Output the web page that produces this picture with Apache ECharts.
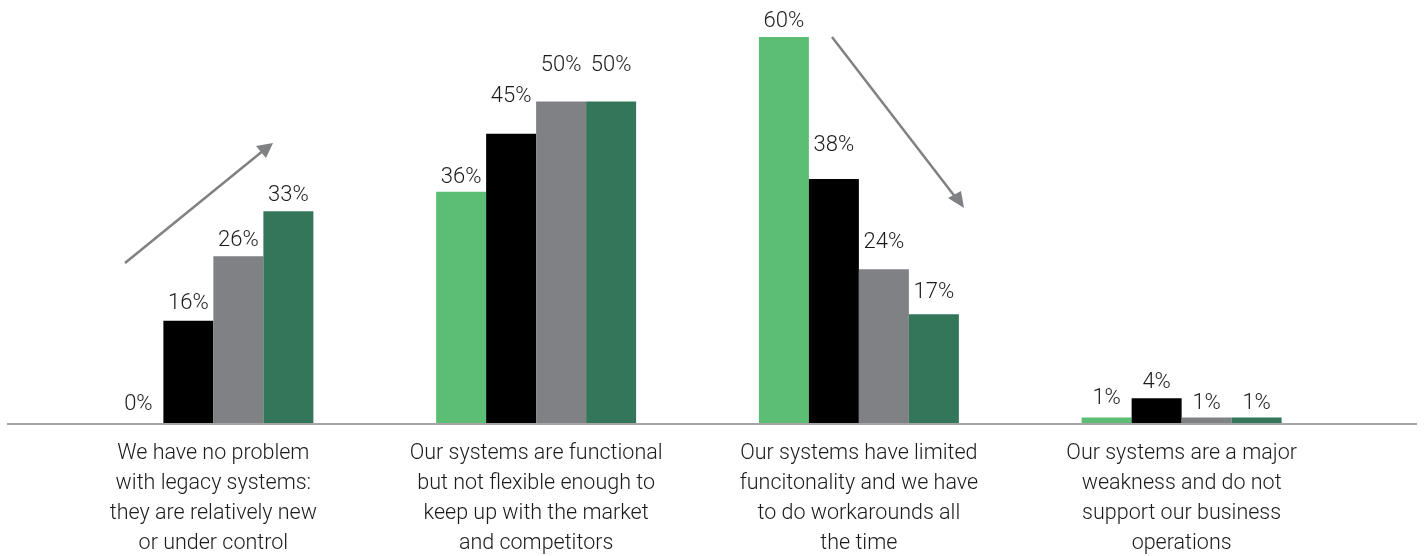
<!DOCTYPE html>
<html>
<head>
<meta charset="utf-8">
<script src="https://cdn.jsdelivr.net/npm/echarts@6/dist/echarts.min.js"></script>
<style>
  html, body { margin: 0; padding: 0; background: #fff; }
  #chart { width: 1424px; height: 556px; }
</style>
</head>
<body>
<div id="chart"></div>
<script>
// Categories (answers about legacy systems)
const categories = [
  'We have no problem\nwith legacy systems:\nthey are relatively new\nor under control',
  'Our systems are functional\nbut not flexible enough to\nkeep up with the market\nand competitors',
  'Our systems have limited\nfuncitonality and we have\nto do workarounds all\nthe time',
  'Our systems are a major\nweakness and do not\nsupport our business\noperations'
];

// Series values in percent
const seriesA = [0, 36, 60, 1];
const seriesB = [16, 45, 38, 4];
const seriesC = [26, 50, 24, 1];
const seriesD = [33, 50, 17, 1];

// Vertical nudges (px) for the value labels, per series and category
const labelNudgeA = [-4, 2, 0, -3];
const labelNudgeB = [-1, -21, -17, 0];
const labelNudgeC = [0, -20, -11, 2];
const labelNudgeD = [0, -20, -6, 2];

const colors = ['#5cbd74', '#000000', '#808184', '#33765a'];
const seriesValues = [seriesA, seriesB, seriesC, seriesD];
const labelNudges = [labelNudgeA, labelNudgeB, labelNudgeC, labelNudgeD];

const chart = echarts.init(document.getElementById('chart'));

const labelStyle = {
  show: true,
  position: 'top',
  distance: 5,
  formatter: p => p.value + '%',
  fontFamily: 'Roboto',
  fontWeight: 300,
  fontSize: 22,
  color: '#1a1a1a'
};

chart.setOption({
  animation: false,
  backgroundColor: '#fff',
  grid: { left: 52, right: 81, top: 37, bottom: 132, containLabel: false, outerBoundsMode: 'none' },
  xAxis: {
    type: 'category',
    data: categories,
    axisLine: { show: false },
    axisTick: { show: false },
    axisLabel: {
      interval: 0,
      margin: 15,
      fontFamily: 'Roboto',
      fontWeight: 300,
      fontSize: 21.5,
      lineHeight: 30,
      color: '#1a1a1a',
      align: 'center'
    }
  },
  yAxis: {
    type: 'value',
    min: 0,
    max: 60,
    show: false,
    splitLine: { show: false }
  },
  series: seriesValues.map((vals, i) => ({
    type: 'bar',
    data: vals.map((v, j) => ({ value: v, label: { offset: [0, labelNudges[i][j]] } })),
    barWidth: 50,
    barGap: '0%',
    itemStyle: { color: colors[i] },
    label: labelStyle
  })),
  graphic: [
    // baseline
    { type: 'line', shape: { x1: 7, y1: 424, x2: 1417, y2: 424 },
      style: { stroke: '#a6a6a6', lineWidth: 2 }, z: 100 },
    // rising trend arrow
    { type: 'line', shape: { x1: 125, y1: 263, x2: 264, y2: 150 },
      style: { stroke: '#808184', lineWidth: 2.5 } },
    { type: 'polygon', shape: { points: [[273, 143], [256, 146], [266, 158]] },
      style: { fill: '#808184' } },
    // falling trend arrow
    { type: 'line', shape: { x1: 832, y1: 37, x2: 956, y2: 198 },
      style: { stroke: '#808184', lineWidth: 2.5 } },
    { type: 'polygon', shape: { points: [[964, 208], [948, 198], [961, 191]] },
      style: { fill: '#808184' } }
  ]
});
</script>
</body>
</html>
